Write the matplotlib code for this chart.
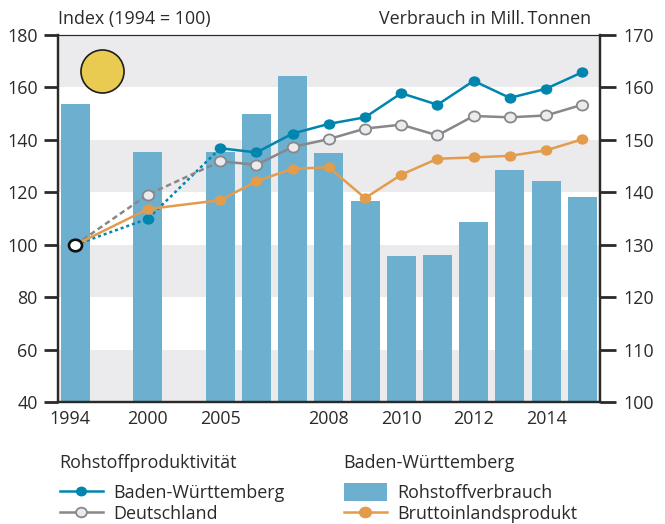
import matplotlib
matplotlib.use("Agg")
import matplotlib.pyplot as plt
from matplotlib.lines import Line2D
from matplotlib.patches import Patch
from matplotlib.path import Path
from matplotlib.transforms import Affine2D, ScaledTranslation

plt.rcParams['font.family'] = ['Open Sans', 'DejaVu Sans']

positions = [0, 2, 4, 5, 6, 7, 8, 9, 10, 11, 12, 13, 14]
tick_positions = [0, 2, 4, 7, 9, 11, 13]
tick_labels = ['1994', '2000', '2005', '2008', '2010', '2012', '2014']

verbrauch = [156.8, 147.7, 147.7, 154.9, 162.2, 147.5, 138.3, 127.8, 128.0, 134.3, 144.2, 142.1, 139.1]
baden = [100, 109.9, 136.8, 135.2, 142.4, 146.1, 148.6, 157.8, 153.4, 162.5, 156.0, 159.5, 165.8]
deutschland = [100, 119.1, 131.8, 130.5, 137.3, 140.3, 144.3, 145.8, 141.7, 149.1, 148.6, 149.3, 153.4]
bip = [100, 113.6, 117.0, 124.2, 129.0, 129.5, 117.8, 126.7, 132.8, 133.3, 133.9, 136.0, 140.2]
bands_right = [(100, 110), (120, 130), (140, 150), (160, 170)]

C_TEXT = '#2b2a29'
C_BAR = '#6cafcf'
C_BW = '#0085ae'
C_DE = '#88888b'
C_BIP = '#e39c4c'
C_BAND = '#ebebed'
FS = 12.9
ELL = Path.unit_circle().transformed(Affine2D().scale(1.13, 1))

fig = plt.figure(figsize=(6.65, 5.24), dpi=100)
ax = fig.add_axes([58/665, 1-402/524, (600-58)/665, (402-35)/524])
ax_r = ax.twinx()
ax.set_zorder(ax_r.get_zorder()+1)
ax.patch.set_visible(False)

for lo, hi in bands_right:
    ax_r.axhspan(lo, hi, color=C_BAND, lw=0, zorder=0)
ax_r.bar(positions, verbrauch, width=0.8, color=C_BAR, zorder=2, bottom=0)

LW = 1.8
ax.plot(positions[:3], baden[:3], color=C_BW, lw=LW, ls=(0, (1.2, 1.2)), zorder=3)
ax.plot(positions[:3], deutschland[:3], color=C_DE, lw=LW, ls=(0, (2.2, 1.4)), zorder=3)
ax.plot(positions[2:], baden[2:], color=C_BW, lw=LW, zorder=3)
ax.plot(positions[2:], deutschland[2:], color=C_DE, lw=LW, zorder=3)
ax.plot(positions, bip, color=C_BIP, lw=LW, zorder=4)

ax.plot(positions[1:], baden[1:], ls='', marker=ELL, color=C_BW, ms=8.4, mew=0, zorder=5)
ax.plot(positions[1:], deutschland[1:], ls='', marker=ELL, mfc=C_BAND, mec=C_DE, mew=1.3, ms=8.2, zorder=5)
ax.plot(positions[1:], bip[1:], ls='', marker=ELL, color=C_BIP, ms=8.4, mew=0, zorder=6)
ax.plot(positions[:1], [100], ls='', marker=ELL, mfc='white', mec='#111111', mew=1.9, ms=9.4, zorder=7)

# sun symbol
ax.plot([(101.5-58)/542], [1-(71-35)/367], 'o', transform=ax.transAxes, ms=31,
        mfc='#e8cb50', mec='#1d1d1b', mew=1.2, zorder=7, clip_on=False)

ax.set_xlim(-0.483, 14.49)
ax.set_ylim(40, 180)
ax.set_yticks(range(40, 181, 20))
ax_r.set_ylim(100, 170)
ax_r.set_yticks(range(100, 171, 10))
ax.set_xticks(tick_positions)
ax.set_xticklabels(tick_labels, fontsize=FS, color=C_TEXT)
ax.tick_params(axis='x', length=0, pad=6)
ax.tick_params(axis='y', length=10, width=2, color='#2b2a29', labelsize=FS, labelcolor=C_TEXT, pad=4.5)
ax_r.tick_params(axis='y', length=11.5, width=2, color='#2b2a29', labelsize=FS, labelcolor=C_TEXT, pad=5.5)
ax.get_xticklabels()[0].set_transform(
    ax.get_xticklabels()[0].get_transform() + ScaledTranslation(-6/100, 0, fig.dpi_scale_trans))

for a in (ax, ax_r):
    for s in a.spines.values():
        s.set_color('#2b2a29')
    a.spines['left'].set_linewidth(1.6)
    a.spines['right'].set_linewidth(1.6)
    a.spines['top'].set_linewidth(0.8)
    a.spines['bottom'].set_linewidth(1.6)

fig.text(58/665, 1-19/524, 'Index (1994 = 100)', fontsize=FS, color=C_TEXT, ha='left', va='center')
fig.text(591/665, 1-19/524, 'Verbrauch in Mill.\u2009Tonnen', fontsize=FS, color=C_TEXT, ha='right', va='center')

leg_kw = dict(frameon=False, fontsize=FS, title_fontsize=FS, handlelength=2.4, handletextpad=0.6,
              handleheight=1.15, labelspacing=0.11, alignment='left', labelcolor=C_TEXT,
              borderaxespad=0, borderpad=0)
h1 = [Line2D([], [], color=C_BW, lw=LW, marker=ELL, ms=8, mew=0),
      Line2D([], [], color=C_DE, lw=LW, marker=ELL, mfc=C_BAND, mec=C_DE, mew=1.3, ms=7.8)]
h2 = [Patch(color=C_BAR, lw=0),
      Line2D([], [], color=C_BIP, lw=LW, marker=ELL, ms=9.5, mew=0)]
leg1 = fig.legend(h1, ['Baden-Württemberg', 'Deutschland'], title='Rohstoffproduktivität',
                  loc='upper left', bbox_to_anchor=(59.5/665, 1-454/524), **leg_kw)
leg2 = fig.legend(h2, ['Rohstoffverbrauch', 'Bruttoinlandsprodukt'], title='Baden-Württemberg',
                  loc='upper left', bbox_to_anchor=(343.5/665, 1-454/524), **leg_kw)
for l in (leg1, leg2):
    l.get_title().set_color(C_TEXT)
    l._legend_box.sep = 8

fig.savefig('out.png', dpi=100)
